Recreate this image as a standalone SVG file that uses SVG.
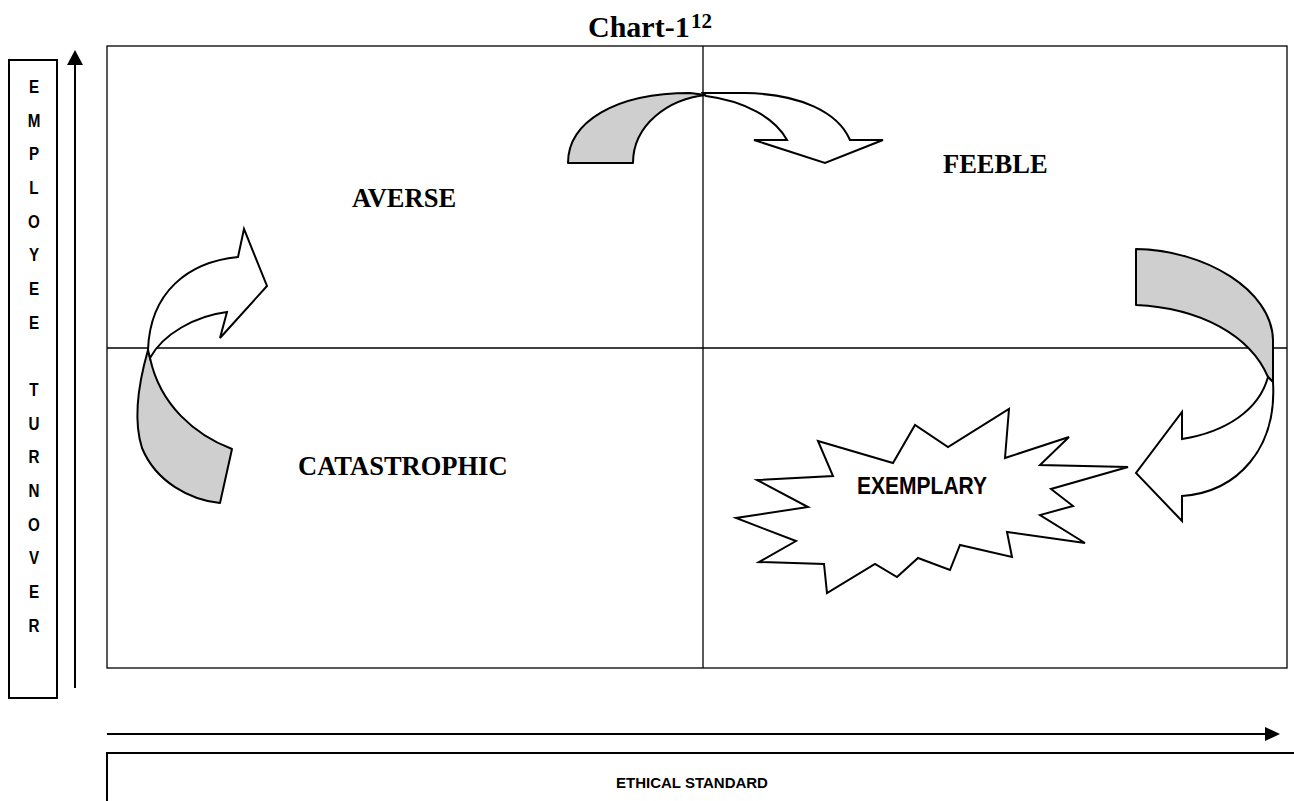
<svg xmlns="http://www.w3.org/2000/svg" width="1294" height="801" viewBox="0 0 1294 801">
<style>
.ser{font-family:"Liberation Serif","Times New Roman",serif;font-weight:bold;fill:#000}
.sans{font-family:"Liberation Sans",Arial,sans-serif;font-weight:bold;fill:#000}
.grid{fill:none;stroke:#000;stroke-width:1.3}
.frame{fill:none;stroke:#000;stroke-width:2}
.axis{stroke:#000;stroke-width:2;fill:none}
.back{fill:#cfcfcf;stroke:#000;stroke-width:2;stroke-linejoin:round}
.face{fill:#fff;stroke:#000;stroke-width:2;stroke-linejoin:miter}
</style>
<rect width="1294" height="801" fill="#fff"/>

<g id="title">
<text class="ser" x="588" y="37" font-size="30">Chart-1</text>
<text class="ser" x="691" y="28" font-size="21">12</text>
</g>

<g id="grid">
<rect class="grid" x="107" y="46" width="1180" height="622"/>
<line class="grid" x1="703" y1="46" x2="703" y2="668"/>
<line class="grid" x1="107" y1="348" x2="1287" y2="348"/>
</g>

<g id="y-axis-label">
<rect class="frame" x="9" y="60" width="48" height="638"/>
<g transform="translate(34,0) scale(0.8,1)" class="sans" font-size="19" text-anchor="middle">
<text x="0" y="93">E</text>
<text x="0" y="127">M</text>
<text x="0" y="160">P</text>
<text x="0" y="194">L</text>
<text x="0" y="228">O</text>
<text x="0" y="261">Y</text>
<text x="0" y="295">E</text>
<text x="0" y="329">E</text>
<text x="0" y="396">T</text>
<text x="0" y="430">U</text>
<text x="0" y="463">R</text>
<text x="0" y="497">N</text>
<text x="0" y="531">O</text>
<text x="0" y="564">V</text>
<text x="0" y="598">E</text>
<text x="0" y="632">R</text>
</g>
</g>

<g id="x-axis-label">
<path class="frame" d="M107,805 L107,753 L1300,753"/>
<text class="sans" x="692" y="788" font-size="15" text-anchor="middle">ETHICAL STANDARD</text>
</g>

<g id="connectors">
<line class="axis" x1="75" y1="688" x2="75" y2="62"/>
<polygon points="75,50 67,65 83,65" fill="#000"/>
<line class="axis" x1="107" y1="734" x2="1268" y2="734"/>
<polygon points="1280,734 1265,727 1265,741" fill="#000"/>
</g>

<g id="label-averse"><text class="ser" x="352" y="207" font-size="26.5">AVERSE</text></g>
<g id="label-feeble"><text class="ser" x="943" y="173" font-size="26.5">FEEBLE</text></g>
<g id="label-catastrophic"><text class="ser" x="298" y="475" font-size="26.5">CATASTROPHIC</text></g>

<g id="arrow-top">
<path class="back" d="M568,163 C568,122 615,93 690,93 L706,95 C668,99 633,125 633,163 Z"/>
<path class="face" d="M703,93 L745,93 C800,94 838,112 850,140 L883,140 L825,163 L754,140 L787,140 C775,118 745,101 706,96 Z"/>
</g>

<g id="arrow-left">
<path class="back" d="M148,350 C138,385 133,420 142,448 C156,482 190,500 220,503 L232,449 C195,435 160,405 150,358 Z"/>
<path class="face" d="M148,350 C150,292 188,262 238,257 L244,229 L267,286 L220,338 L227,312 C195,316 163,334 150,358 Z"/>
</g>

<g id="arrow-right">
<path class="back" d="M1136,249 C1205,250 1272,290 1273,340 L1273,382 L1268,377 C1250,335 1200,308 1136,305 Z"/>
<path class="face" d="M1268,377 L1273,382 C1277,448 1238,492 1182,496 L1182,521 L1136,473 L1182,412 L1182,439 C1226,432 1259,410 1268,377 Z"/>
</g>

<g id="exemplary">
<polygon class="face" stroke-width="1.8" points="818,441 893,463 915,425 948,447 1009,409 1005,458 1069,437 1040,465 1128,467 1051,489 1073,506 1040,515 1085,543 1007,532 1012,557 960,545 950,570 918,558 897,577 875,564 827,593 824,564 759,562 796,541 736,518 808,507 757,480 833,476"/>
<text class="sans" x="857" y="494" font-size="23" textLength="130" lengthAdjust="spacingAndGlyphs">EXEMPLARY</text>
</g>
</svg>
